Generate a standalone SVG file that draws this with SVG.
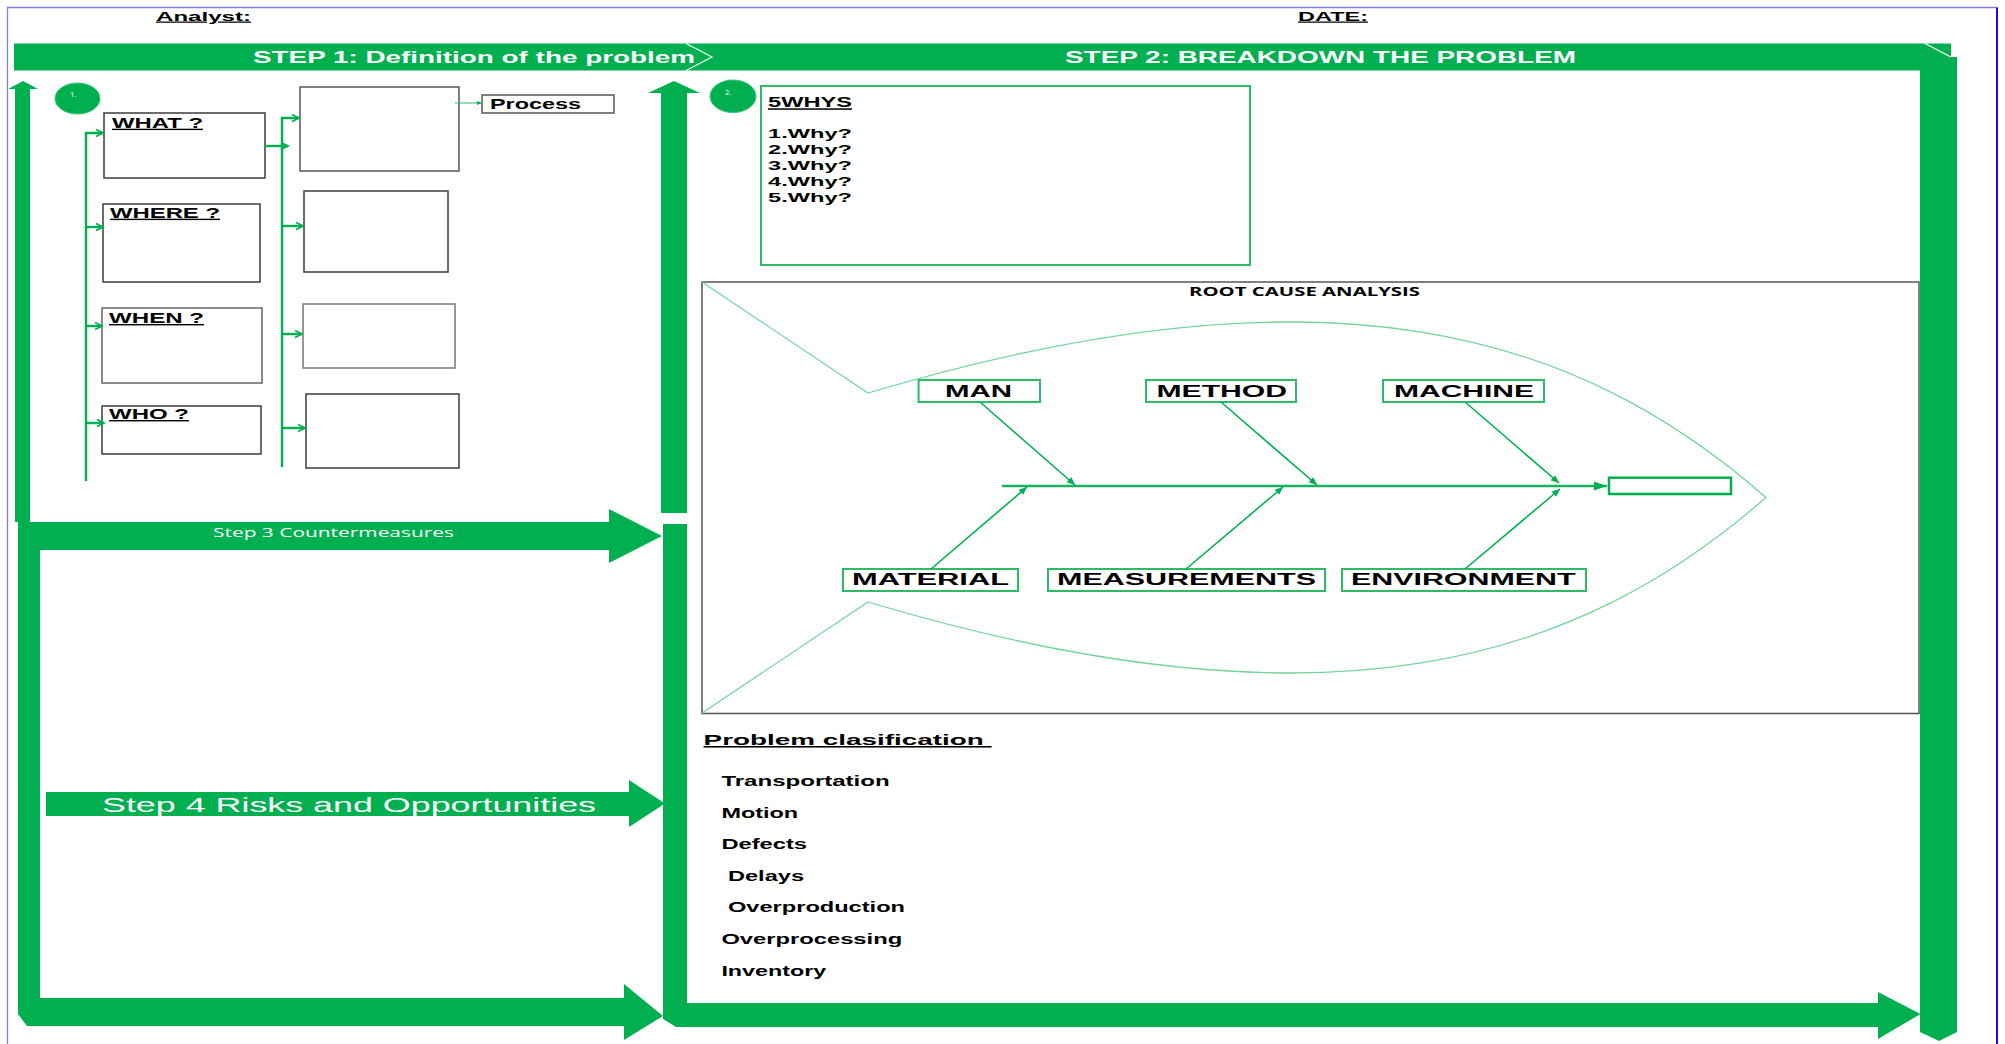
<svg xmlns="http://www.w3.org/2000/svg" width="2005" height="1044" viewBox="0 0 2005 1044">
  <defs>
    <marker id="open" markerUnits="userSpaceOnUse" markerWidth="10" markerHeight="10" refX="8" refY="5" orient="auto">
      <path d="M1,1.5 L8,5 L1,8.5" fill="none" stroke="#00b050" stroke-width="1.8"/>
    </marker>
    <marker id="tri" markerUnits="userSpaceOnUse" markerWidth="10" markerHeight="8" refX="8" refY="4" orient="auto">
      <path d="M0,0.5 L8,4 L0,7.5 z" fill="#00b050"/>
    </marker>
    <marker id="head" markerUnits="userSpaceOnUse" markerWidth="14" markerHeight="10" refX="13" refY="5" orient="auto">
      <path d="M0,0.5 L13,5 L0,9.5 z" fill="#00b050"/>
    </marker>
    <marker id="tiny" markerUnits="userSpaceOnUse" markerWidth="6" markerHeight="6" refX="5" refY="3" orient="auto">
      <path d="M0,1 L5,3 L0,5 z" fill="#00b050"/>
    </marker>
  </defs>
  <style>
    .band{fill:#00b050}
    .box{fill:#fff;stroke:#3d3d3d;stroke-width:1.5}
    .gbox{fill:#fff;stroke:#2dbb67;stroke-width:2}
    .t{font-family:"Liberation Sans",Arial,sans-serif;font-weight:bold;fill:#000}
    .c{font-family:"Open Sans","Liberation Sans",sans-serif}
    .w{fill:#fff}
    .u{text-decoration:underline}
    .fish{fill:none;stroke:#72d49c;stroke-width:1.2}
    .bone{stroke:#00b050;stroke-width:1.6;fill:none}
    .tick{stroke:#00b050;stroke-width:2.4;fill:none}
  </style>

  <rect width="2005" height="1044" fill="#fff"/>

  <!-- page frame -->
  <g id="frame" fill="none">
    <path d="M7.5,1044 V7.5 H1997" stroke="#8080dc" stroke-width="1.3"/>
    <path d="M1997,7.5 V1044" stroke="#1414d2" stroke-width="2"/>
  </g>

  <!-- header fields -->
  <g id="header">
    <text class="t u" x="156" y="20.5" font-size="12.5" textLength="95" lengthAdjust="spacingAndGlyphs">Analyst:</text>
    <text class="t u" x="1298" y="20.5" font-size="12.5" textLength="70" lengthAdjust="spacingAndGlyphs">DATE:</text>
  </g>

  <!-- big process arrows -->
  <g id="flow-arrows" class="band">
    <!-- step 1 / step 2 header band bending down the right side -->
    <polygon points="14,43.5 1951,43.5 1951,57 1957,57 1957,1032 1939,1041 1920,1032 1920,70.5 14,70.5"/>
    <line x1="1925" y1="43.5" x2="1951" y2="57" stroke="#fff" stroke-width="1.2"/>
    <polyline points="686,43.5 712,57 686,70.5" fill="none" stroke="#fff" stroke-width="1.2"/>
    <!-- up arrows -->
    <polygon points="23,81 38,89 30,89 30,522 15,522 15,89 8,89"/>
    <polygon points="674,81 700,93 687,93 687,513 661,513 661,93 648,93"/>
    <!-- step 3 arrow, left return bar and bottom arrow -->
    <polygon points="18,522 609,522 609,509 662,536 609,563 609,550 40,550 40,998 624,998 624,984 663,1016 624,1040 624,1026 27,1026 18,1014"/>
    <!-- step 4 arrow -->
    <polygon points="46,792 629,792 629,780 665,803.5 629,827 629,816 46,816"/>
    <!-- middle bar and step 2 bottom arrow -->
    <polygon points="663,524 687,524 687,1003 1878,1003 1878,992 1920.5,1014 1878,1039 1878,1027 676,1027 663,1019"/>
  </g>

  <g id="band-labels">
    <text class="t w" x="253" y="62.5" font-size="17" textLength="442" lengthAdjust="spacingAndGlyphs">STEP 1: Definition of the problem</text>
    <text class="t w" x="1065" y="62.5" font-size="17" textLength="511" lengthAdjust="spacingAndGlyphs">STEP 2: BREAKDOWN THE PROBLEM</text>
    <text class="c w" x="213" y="536.5" font-size="13" textLength="241" lengthAdjust="spacingAndGlyphs">Step 3 Countermeasures</text>
    <text class="w" x="102" y="812" font-size="21" font-family="Liberation Sans, Arial, sans-serif" textLength="494" lengthAdjust="spacingAndGlyphs">Step 4 Risks and Opportunities</text>
  </g>

  <!-- step 1 badges -->
  <g id="badge-1">
    <ellipse cx="77.5" cy="98.5" rx="22.5" ry="15.5" fill="#00b050" stroke="#3cc47a" stroke-width="1"/>
    <text class="c w" x="70" y="97" font-size="8">1.</text>
  </g>
  <g id="badge-2">
    <ellipse cx="733" cy="96.3" rx="23" ry="16.3" fill="#00b050" stroke="#3cc47a" stroke-width="1"/>
    <text class="c w" x="725" y="95" font-size="7.5">2.</text>
  </g>

  <!-- step 1 question boxes -->
  <g id="what">
    <rect class="box" x="104" y="113" width="161" height="65"/>
    <text class="t u" x="112" y="127.7" font-size="14" textLength="91" lengthAdjust="spacingAndGlyphs">WHAT ?</text>
  </g>
  <g id="where">
    <rect class="box" x="103" y="204" width="157" height="78"/>
    <text class="t u" x="110" y="217.7" font-size="14" textLength="110" lengthAdjust="spacingAndGlyphs">WHERE ?</text>
  </g>
  <g id="when">
    <rect class="box" x="102" y="308" width="160" height="75" style="stroke:#666"/>
    <text class="t u" x="109" y="323" font-size="14" textLength="95" lengthAdjust="spacingAndGlyphs">WHEN ?</text>
  </g>
  <g id="who">
    <rect class="box" x="102" y="406" width="159" height="48"/>
    <text class="t u" x="109" y="419" font-size="14" textLength="80" lengthAdjust="spacingAndGlyphs">WHO ?</text>
  </g>

  <!-- step 1 answer boxes -->
  <g id="answer-1"><rect class="box" x="300" y="87" width="159" height="84" style="stroke:#555"/></g>
  <g id="answer-2"><rect class="box" x="304" y="191" width="144" height="81"/></g>
  <g id="answer-3"><rect class="box" x="303" y="304" width="152" height="64" style="stroke:#777"/></g>
  <g id="answer-4"><rect class="box" x="306" y="394" width="153" height="74"/></g>
  <g id="process">
    <rect class="box" x="482" y="95" width="132" height="18" style="stroke:#555"/>
    <text class="t" x="490" y="108.5" font-size="14" textLength="91" lengthAdjust="spacingAndGlyphs">Process</text>
  </g>

  <!-- 5 whys -->
  <g id="five-whys">
    <rect class="gbox" x="761" y="86" width="489" height="179"/>
    <text class="t u" x="768" y="107.3" font-size="15" textLength="84" lengthAdjust="spacingAndGlyphs">5WHYS</text>
    <text class="t" x="768" y="138.3" font-size="13.5" textLength="84" lengthAdjust="spacingAndGlyphs">1.Why?</text>
    <text class="t" x="768" y="154.1" font-size="13.5" textLength="84" lengthAdjust="spacingAndGlyphs">2.Why?</text>
    <text class="t" x="768" y="169.9" font-size="13.5" textLength="84" lengthAdjust="spacingAndGlyphs">3.Why?</text>
    <text class="t" x="768" y="185.7" font-size="13.5" textLength="84" lengthAdjust="spacingAndGlyphs">4.Why?</text>
    <text class="t" x="768" y="201.5" font-size="13.5" textLength="84" lengthAdjust="spacingAndGlyphs">5.Why?</text>
  </g>

  <!-- root cause analysis (fishbone) -->
  <g id="root-cause">
    <rect x="702" y="282" width="1217" height="431.5" fill="#fff" stroke="#555" stroke-width="1.5"/>
    <text class="c" x="1189" y="295.7" font-size="12.5" font-weight="bold" textLength="231" lengthAdjust="spacingAndGlyphs">ROOT CAUSE ANALYSIS</text>
    <path class="fish" d="M702,282 L868,393 C1330,255 1578,333 1766,497.5"/>
    <path class="fish" d="M702,713 L868,602 C1330,740 1578,662 1766,497.5"/>
  </g>
  <g id="problem-head"><rect x="1609" y="477.7" width="122" height="16.3" fill="#fff" stroke="#00b050" stroke-width="2.5"/></g>
  <g id="man">
    <rect class="gbox" x="918.6" y="380" width="121.4" height="22"/>
    <text class="t" x="945" y="396.6" font-size="16" textLength="67" lengthAdjust="spacingAndGlyphs">MAN</text>
  </g>
  <g id="method">
    <rect class="gbox" x="1146" y="380" width="150" height="22"/>
    <text class="t" x="1156.5" y="396.6" font-size="16" textLength="130.5" lengthAdjust="spacingAndGlyphs">METHOD</text>
  </g>
  <g id="machine">
    <rect class="gbox" x="1383" y="380" width="161" height="22"/>
    <text class="t" x="1394" y="396.6" font-size="16" textLength="140" lengthAdjust="spacingAndGlyphs">MACHINE</text>
  </g>
  <g id="material">
    <rect class="gbox" x="843" y="569" width="175" height="22"/>
    <text class="t" x="852" y="585.3" font-size="16" textLength="157" lengthAdjust="spacingAndGlyphs">MATERIAL</text>
  </g>
  <g id="measurements">
    <rect class="gbox" x="1048" y="569" width="277" height="22"/>
    <text class="t" x="1057" y="585.3" font-size="16" textLength="259" lengthAdjust="spacingAndGlyphs">MEASUREMENTS</text>
  </g>
  <g id="environment">
    <rect class="gbox" x="1342" y="569" width="244" height="22"/>
    <text class="t" x="1351" y="585.3" font-size="16" textLength="224.5" lengthAdjust="spacingAndGlyphs">ENVIRONMENT</text>
  </g>

  <!-- problem classification -->
  <g id="classification">
    <text class="t u" x="703.6" y="745" font-size="15.5" textLength="288" lengthAdjust="spacingAndGlyphs" style="white-space:pre">Problem clasification </text>
    <text class="t" x="721.4" y="786" font-size="14" textLength="168.3" lengthAdjust="spacingAndGlyphs">Transportation</text>
    <text class="t" x="721.4" y="818.3" font-size="14" textLength="76.8" lengthAdjust="spacingAndGlyphs">Motion</text>
    <text class="t" x="721.4" y="849.3" font-size="14" textLength="85.7" lengthAdjust="spacingAndGlyphs">Defects</text>
    <text class="t" x="728" y="881" font-size="14" textLength="76" lengthAdjust="spacingAndGlyphs">Delays</text>
    <text class="t" x="728" y="912.3" font-size="14" textLength="177" lengthAdjust="spacingAndGlyphs">Overproduction</text>
    <text class="t" x="721.4" y="944.3" font-size="14" textLength="180.8" lengthAdjust="spacingAndGlyphs">Overprocessing</text>
    <text class="t" x="721.4" y="975.7" font-size="14" textLength="104.9" lengthAdjust="spacingAndGlyphs">Inventory</text>
  </g>

  <!-- connectors -->
  <g id="connectors">
    <!-- step 1 question feed -->
    <path class="tick" d="M86,481 V133 H103" marker-end="url(#open)"/>
    <path class="tick" d="M86,227 H103" marker-end="url(#open)"/>
    <path class="tick" d="M86,326 H102" marker-end="url(#open)"/>
    <path class="tick" d="M86,423 H104" marker-end="url(#open)"/>
    <!-- step 1 answer feed -->
    <path class="tick" d="M282,467 V118 H299" marker-end="url(#open)"/>
    <path class="tick" d="M265,146 H288" marker-end="url(#open)"/>
    <path class="tick" d="M282,226 H303" marker-end="url(#open)"/>
    <path class="tick" d="M282,334 H302" marker-end="url(#open)"/>
    <path class="tick" d="M282,428 H305" marker-end="url(#open)"/>
    <line x1="455" y1="103" x2="482" y2="103" stroke="#2dbb67" stroke-width="1" marker-end="url(#tiny)"/>
    <!-- fishbone spine and bones -->
    <line x1="1002" y1="486" x2="1607" y2="486" stroke="#19b25c" stroke-width="2.5" marker-end="url(#head)"/>
    <line class="bone" x1="980" y1="402" x2="1075" y2="485" marker-end="url(#tri)"/>
    <line class="bone" x1="1221" y1="402" x2="1317" y2="485" marker-end="url(#tri)"/>
    <line class="bone" x1="1465" y1="402" x2="1559" y2="483" marker-end="url(#tri)"/>
    <line class="bone" x1="931" y1="569" x2="1027" y2="487" marker-end="url(#tri)"/>
    <line class="bone" x1="1186" y1="569" x2="1283" y2="487" marker-end="url(#tri)"/>
    <line class="bone" x1="1465" y1="569" x2="1560" y2="489" marker-end="url(#tri)"/>
  </g>
</svg>
